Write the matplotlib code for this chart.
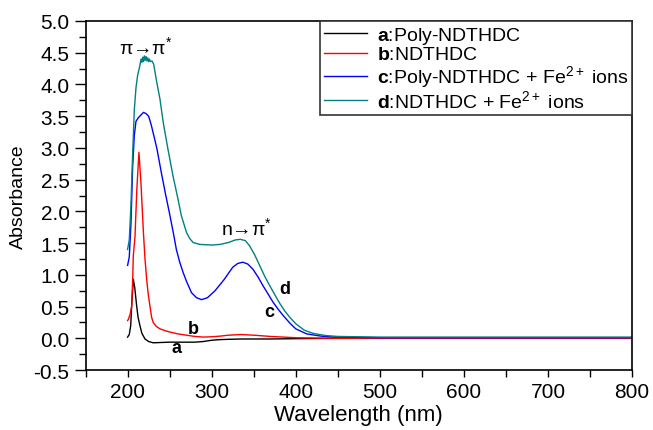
import matplotlib
matplotlib.use('Agg')
from matplotlib import pyplot as plt
from matplotlib.ticker import MultipleLocator

plt.rcParams['font.family'] = ['Liberation Sans', 'DejaVu Sans']
plt.rcParams['mathtext.fontset'] = 'custom'
plt.rcParams['mathtext.rm'] = 'Liberation Sans'
plt.rcParams['mathtext.it'] = 'Liberation Sans'
plt.rcParams['mathtext.bf'] = 'Liberation Sans:bold'
plt.rcParams['axes.unicode_minus'] = False

# a: Poly-NDTHDC
wl_a = [200, 202, 203.7, 205, 206.8, 208.5, 210.8, 212.5, 214.7, 217, 220.7, 225, 230.5, 240, 250, 260,
        270, 280, 290, 300, 310, 320, 335, 350, 370, 400, 450, 500, 600, 700, 800]
abs_a = [0.02, 0.06, 0.20, 0.55, 0.93, 0.80, 0.51, 0.33, 0.20, 0.08, -0.01, -0.05, -0.07, -0.065, -0.06, -0.06,
         -0.06, -0.06, -0.05, -0.03, -0.02, -0.015, -0.01, -0.01, -0.01, -0.005, 0.0, 0.0, 0.0, 0.0, 0.0]

# b: NDTHDC
wl_b = [200, 201, 203, 204.9, 206, 206.8, 208.8, 211, 213.5, 215.9, 218.7, 220.7, 222.7, 224.5, 226.6, 228.6,
        230.5, 234, 238.5, 245, 250, 260, 270, 280, 290, 300, 310, 320, 335, 350, 370, 400, 450, 500, 600, 800]
abs_b = [0.28, 0.30, 0.38, 0.51, 0.90, 1.30, 1.60, 2.35, 2.93, 2.45, 1.70, 1.25, 0.93, 0.70, 0.51, 0.33,
         0.25, 0.19, 0.15, 0.12, 0.10, 0.07, 0.05, 0.03, 0.02, 0.025, 0.035, 0.05, 0.06, 0.05, 0.03, 0.01, 0.0,
         0.0, 0.0, 0.0]

# c: Poly-NDTHDC + Fe2+ ions
wl_c = [200, 202, 204, 206, 208, 210, 213, 216, 219, 222, 225, 228, 232, 235, 240, 245, 250, 255, 258, 262,
        266, 270, 276, 282, 288, 295, 304, 315, 325, 331, 337, 343, 349, 355, 361, 367, 373, 379, 385, 393,
        400, 413, 430, 445, 500, 600, 700, 800]
abs_c = [1.15, 1.28, 1.80, 2.70, 3.20, 3.42, 3.48, 3.52, 3.56, 3.54, 3.50, 3.37, 3.15, 2.98, 2.62, 2.28,
         1.96, 1.62, 1.40, 1.20, 1.04, 0.90, 0.72, 0.64, 0.61, 0.64, 0.75, 0.93, 1.12, 1.18, 1.20, 1.17, 1.09,
         0.97, 0.83, 0.70, 0.57, 0.46, 0.36, 0.24, 0.15, 0.07, 0.035, 0.02, 0.01, 0.01, 0.01, 0.01]

# d: NDTHDC + Fe2+ ions
wl_d = [200, 202, 204, 206, 208, 210, 212, 214, 215, 216, 217, 218, 219, 220, 221, 222, 223, 224, 225, 226,
        227, 229, 231, 234.5, 238.5, 242.4, 248, 254, 260, 264, 270, 274, 278, 286, 300, 310, 320, 328, 334,
        340, 345, 351, 357, 363, 369, 375, 381, 387, 393, 400, 410, 420, 435, 450, 500, 600, 700, 800]
abs_d = [1.40, 1.55, 2.10, 2.90, 3.60, 3.95, 4.15, 4.26, 4.33, 4.40, 4.35, 4.43, 4.36, 4.45, 4.38, 4.44,
         4.37, 4.42, 4.36, 4.40, 4.36, 4.37, 4.32, 4.05, 3.77, 3.40, 2.98, 2.56, 2.19, 1.93, 1.67, 1.57, 1.51,
         1.48, 1.47, 1.48, 1.51, 1.55, 1.56, 1.54, 1.46, 1.32, 1.15, 0.98, 0.83, 0.69, 0.55, 0.43, 0.33, 0.23,
         0.13, 0.08, 0.045, 0.03, 0.02, 0.02, 0.02, 0.02]

labels = [r'$\mathbf{a}$:Poly-NDTHDC', r'$\mathbf{b}$:NDTHDC',
          r'$\mathbf{c}$:Poly-NDTHDC + Fe$^{2+}$ ions', r'$\mathbf{d}$:NDTHDC + Fe$^{2+}$ ions']
colors = ['black', 'red', 'blue', '#008080']

fig = plt.figure(figsize=(6.53, 4.31), dpi=100)
ax = fig.add_subplot(111)
fig.subplots_adjust(left=0.131, right=0.968, bottom=0.139, top=0.949)

for wl, ab, color, label in zip([wl_a, wl_b, wl_c, wl_d], [abs_a, abs_b, abs_c, abs_d], colors, labels):
    ax.plot(wl, ab, color=color, lw=1.0, label=label)

ax.set_xlim(150, 800)
ax.set_ylim(-0.5, 5.0)
ax.xaxis.set_major_locator(MultipleLocator(100))
ax.xaxis.set_minor_locator(MultipleLocator(50))
ax.yaxis.set_major_locator(MultipleLocator(0.5))
ax.yaxis.set_minor_locator(MultipleLocator(0.25))
ax.tick_params(axis='both', which='major', direction='out', labelsize=15, width=1.0)
ax.tick_params(axis='x', which='major', length=5)
ax.tick_params(axis='x', which='minor', length=5, width=1.0)
ax.tick_params(axis='y', which='major', length=8)
ax.tick_params(axis='y', which='minor', length=5, width=1.0)
for s in ax.spines.values():
    s.set_linewidth(1.2)

ax.set_xlabel('Wavelength (nm)', fontsize=16, labelpad=2)
ax.set_ylabel('Absorbance', fontsize=14, labelpad=5)

ax.text(222, 4.6, r'π→π$^{*}$', fontsize=14, ha='center', va='center')
ax.text(341, 1.75, r'n→π$^{*}$', fontsize=14, ha='center', va='center')
ax.text(258, -0.14, 'a', fontsize=13, fontweight='bold', ha='center', va='center')
ax.text(278, 0.15, 'b', fontsize=13, fontweight='bold', ha='center', va='center')
ax.text(369, 0.43, 'c', fontsize=13, fontweight='bold', ha='center', va='center')
ax.text(387, 0.78, 'd', fontsize=13, fontweight='bold', ha='center', va='center')

leg = ax.legend(loc='upper right', fontsize=14, borderaxespad=0, fancybox=False, framealpha=1,
                handlelength=2.2, handletextpad=0.5, labelspacing=0.0, borderpad=0.2)
leg.get_frame().set_edgecolor('#333333')
leg.get_frame().set_linewidth(1.2)

plt.savefig('out.png', dpi=100)
